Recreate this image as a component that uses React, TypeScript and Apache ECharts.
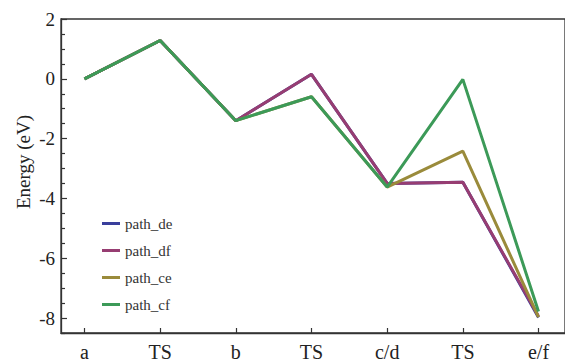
import React, { useEffect, useRef } from "react";
import * as echarts from "echarts";

const categories = ["a", "TS", "b", "TS", "c/d", "TS", "e/f"];
const pathDe = [0, 1.28, -1.4, 0.15, -3.5, -3.46, -7.98];
const pathDf = [0, 1.28, -1.4, 0.15, -3.5, -3.46, -7.94];
const pathCe = [0, 1.28, -1.4, -0.6, -3.62, -2.42, -7.97];
const pathCf = [0, 1.28, -1.4, -0.6, -3.62, -0.02, -7.78];
const yMajorTicks = [-8, -6, -4, -2, 0, 2];
const yMinorTicks = [-8.5, -7.5, -7, -6.5, -5.5, -5, -4.5, -3.5, -3, -2.5, -1.5, -1, -0.5, 0.5, 1, 1.5];
const yTitle = "Energy (eV)";

const seriesDefs = [
  { name: "path_de", data: pathDe, color: "#3a3f9c" },
  { name: "path_df", data: pathDf, color: "#973d72" },
  { name: "path_ce", data: pathCe, color: "#9a8b3b" },
  { name: "path_cf", data: pathCf, color: "#3c9a58" },
];

const FONT = "Liberation Serif";

export default function App() {
  const ref = useRef<HTMLDivElement>(null);
  useEffect(() => {
    if (!ref.current) return;
    const chart = echarts.init(ref.current, undefined, { renderer: "svg" });
    const xIdx = categories.map((_, i) => i);
    chart.setOption({
      animation: false,
      backgroundColor: "#fff",
      textStyle: { fontFamily: FONT },
      grid: {
        left: 61,
        top: 19,
        bottom: 27,
        width: 516,
        show: true,
        borderColor: "#333",
        borderWidth: 1.3,
        backgroundColor: "transparent",
      },
      graphic: [
        {
          type: "text",
          x: 23,
          y: 162,
          rotation: Math.PI / 2,
          style: {
            text: yTitle,
            fontFamily: FONT,
            fontSize: 19,
            fill: "#222",
            align: "center",
            verticalAlign: "middle",
          },
        },
      ],
      legend: {
        orient: "vertical",
        left: 97,
        top: 211,
        itemWidth: 18,
        itemHeight: 3,
        itemGap: 12,
        icon: "rect",
        textStyle: { fontFamily: FONT, fontSize: 15, color: "#333" },
        data: seriesDefs.map((s) => s.name),
      },
      xAxis: {
        type: "value",
        min: -0.31,
        max: 6.35,
        axisLine: { show: true, onZero: false, lineStyle: { color: "#333", width: 1.3 } },
        splitLine: { show: false },
        axisTick: {
          show: true,
          inside: true,
          length: 5,
          customValues: xIdx,
          lineStyle: { color: "#333", width: 1.2 },
        },
        axisLabel: {
          show: true,
          customValues: xIdx,
          margin: 9,
          fontFamily: FONT,
          fontSize: 20,
          color: "#222",
          formatter: (v: number) => categories[Math.round(v)] ?? "",
        },
      },
      yAxis: [
        {
          type: "value",
          min: -8.5,
          max: 2,
          axisLine: { show: true, onZero: false, lineStyle: { color: "#333", width: 1.3 } },
          splitLine: { show: false },
          axisTick: {
            show: true,
            inside: true,
            length: 6,
            customValues: yMajorTicks,
            lineStyle: { color: "#333", width: 1.2 },
          },
          axisLabel: {
            show: true,
            customValues: yMajorTicks,
            margin: 6,
            fontFamily: FONT,
            fontSize: 19,
            color: "#222",
          },
        },
        {
          type: "value",
          min: -8.5,
          max: 2,
          position: "left",
          axisLine: { show: false, onZero: false },
          splitLine: { show: false },
          axisLabel: { show: false },
          axisTick: {
            show: true,
            inside: true,
            length: 4,
            customValues: yMinorTicks,
            lineStyle: { color: "#333", width: 1.2 },
          },
        },
      ],
      series: seriesDefs.map((s) => ({
        name: s.name,
        type: "line",
        data: s.data.map((v, i) => [i, v]),
        showSymbol: false,
        symbol: "none",
        color: s.color,
        lineStyle: { color: s.color, width: 3 },
        itemStyle: { color: s.color },
      })),
    });
    return () => chart.dispose();
  }, []);
  return <div ref={ref} style={{ width: 565, height: 362, position: "absolute", left: 0, top: 0 }} />;
}
